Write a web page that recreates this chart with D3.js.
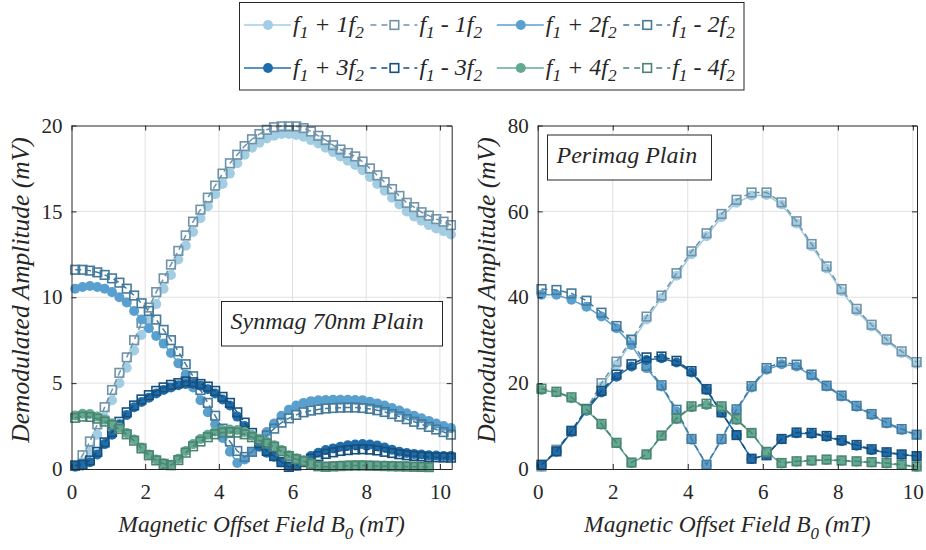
<!DOCTYPE html>
<html><head><meta charset="utf-8">
<script src="https://cdn.jsdelivr.net/npm/d3@7/dist/d3.min.js"></script>
<style>
body{margin:0;background:#fff;}
svg{display:block;}
text{font-family:"Liberation Serif","Times New Roman",serif;fill:#262626;}
</style></head><body>
<svg id="chart" width="926" height="550"></svg>
<script>
// ---------------- DATA ----------------
const harmonicOrder = [1, 1, 2, 2, 3, 3, 4, 4];
const harmonicSign  = ["+", "-", "+", "-", "+", "-", "+", "-"];
const seriesColors  = ["#a3cde3", "#6f93a9", "#5aa0cf", "#457a9c", "#1f6eab", "#174f7d", "#63aa95", "#4b8470"];

const xTicks = [0, 2, 4, 6, 8, 10];
const yTicksSynmag = [0, 5, 10, 15, 20];
const yTicksPerimag = [0, 20, 40, 60, 80];

const synmagTitle = "Synmag 70nm Plain";
const perimagTitle = "Perimag Plain";

const xSynmag = [0.1,0.3,0.5,0.7,0.9,1.1,1.3,1.5,1.7,1.9,2.1,2.3,2.5,2.7,2.9,3.1,3.3,3.5,3.7,3.9,4.1,4.3,4.5,4.7,4.9,5.1,5.3,5.5,5.7,5.9,6.1,6.3,6.5,6.7,6.9,7.1,7.3,7.5,7.7,7.9,8.1,8.3,8.5,8.7,8.9,9.1,9.3,9.5,9.7,9.9,10.1,10.3];
const synP1 = [0.1,0.4,1.1,2.0,3.0,4.0,5.0,5.9,6.9,7.8,8.7,9.6,10.5,11.3,12.2,13.0,13.8,14.6,15.3,16.0,16.6,17.2,17.8,18.3,18.7,19.0,19.25,19.4,19.5,19.5,19.45,19.35,19.15,18.95,18.7,18.45,18.2,17.95,17.7,17.4,17.0,16.6,16.2,15.8,15.4,15.0,14.7,14.45,14.2,14.0,13.85,13.65];
const synM1 = [0.2,0.8,1.6,2.6,3.6,4.6,5.6,6.5,7.5,8.5,9.4,10.3,11.1,11.9,12.7,13.6,14.4,15.1,15.8,16.5,17.2,17.8,18.3,18.8,19.2,19.5,19.75,19.9,19.95,19.95,19.95,19.85,19.65,19.4,19.15,18.85,18.6,18.4,18.2,17.9,17.5,17.1,16.7,16.3,15.9,15.5,15.25,14.95,14.75,14.55,14.4,14.2];
const synP2 = [10.5,10.6,10.65,10.6,10.5,10.3,10.0,9.7,9.2,8.7,8.2,7.75,7.3,6.75,6.15,5.5,4.75,4.0,3.3,2.6,1.8,1.0,0.35,0.55,1.0,1.6,2.15,2.65,3.1,3.45,3.7,3.85,3.95,4.0,4.02,4.03,4.03,4.03,4.02,4.0,3.92,3.82,3.7,3.55,3.4,3.25,3.1,2.95,2.8,2.65,2.5,2.38];
const synM2 = [11.6,11.6,11.55,11.45,11.3,11.1,10.85,10.5,10.1,9.65,9.2,8.7,8.1,7.5,6.85,6.1,5.4,4.6,3.85,3.1,2.35,1.6,1.05,0.7,1.0,1.5,1.95,2.35,2.7,2.95,3.15,3.3,3.4,3.47,3.52,3.55,3.57,3.58,3.58,3.55,3.5,3.42,3.32,3.2,3.05,2.9,2.75,2.6,2.45,2.3,2.15,2.0];
const synP3 = [0.15,0.2,0.4,0.85,1.45,2.0,2.6,3.15,3.6,3.9,4.15,4.4,4.6,4.75,4.88,4.95,4.95,4.85,4.65,4.4,4.05,3.7,3.05,2.5,1.95,1.3,0.95,0.72,0.4,0.15,0.2,0.5,0.75,0.95,1.1,1.2,1.3,1.38,1.43,1.45,1.43,1.37,1.25,1.12,1.0,0.93,0.88,0.84,0.8,0.78,0.76,0.75];
const synM3 = [0.2,0.25,0.5,1.0,1.55,2.15,2.75,3.3,3.7,4.05,4.3,4.55,4.75,4.9,5.0,5.1,5.05,4.95,4.8,4.55,4.2,3.85,3.3,2.7,2.1,1.5,1.05,0.75,0.4,0.12,0.2,0.4,0.6,0.75,0.88,0.97,1.05,1.1,1.14,1.15,1.13,1.08,1.0,0.93,0.86,0.8,0.76,0.73,0.7,0.68,0.67,0.66];
const synP4 = [3.12,3.22,3.2,3.05,2.87,2.66,2.42,2.1,1.72,1.25,0.85,0.55,0.33,0.25,0.6,1.05,1.45,1.75,2.0,2.18,2.27,2.3,2.27,2.15,1.97,1.76,1.58,1.38,1.1,0.8,0.62,0.5,0.33,0.18,0.15,0.17,0.2,0.22,0.23,0.23,0.22,0.21,0.2,0.19,0.18,0.17,0.15,0.13,0.12];
const synM4 = [2.98,3.05,3.03,2.93,2.76,2.56,2.33,2.02,1.65,1.2,0.8,0.5,0.3,0.22,0.52,0.95,1.32,1.6,1.85,2.02,2.12,2.15,2.12,2.02,1.85,1.66,1.48,1.3,1.03,0.75,0.57,0.45,0.3,0.16,0.13,0.15,0.17,0.19,0.2,0.2,0.19,0.18,0.17,0.16,0.15,0.14,0.13,0.12,0.11];

const xPerimag = [0.1,0.5,0.9,1.3,1.7,2.1,2.5,2.9,3.3,3.7,4.1,4.5,4.9,5.3,5.7,6.1,6.5,6.9,7.3,7.7,8.1,8.5,8.9,9.3,9.7,10.1];
const periP1 = [0.5,4.3,8.5,13.5,19.2,24.3,29.5,34.8,39.8,45.0,50.0,54.2,58.7,62.0,63.7,63.8,61.6,57.2,51.9,46.7,41.4,36.8,33.2,29.8,27.0,24.5];
const periM1 = [0.6,4.5,8.8,13.9,20.0,25.0,30.1,35.5,40.4,45.6,50.7,54.9,59.4,62.7,64.4,64.4,62.1,57.7,52.4,47.2,41.9,37.3,33.6,30.2,27.4,24.9];
const periP2 = [40.6,40.6,39.4,37.8,35.5,32.8,28.9,23.5,19.2,13.4,6.8,0.9,6.8,13.6,19.0,23.1,24.4,23.9,21.7,19.2,16.9,14.5,12.6,10.6,9.1,7.9];
const periM2 = [41.9,41.7,40.9,39.2,36.4,33.3,30.1,24.0,19.5,13.8,7.0,1.0,7.0,13.9,19.3,23.5,24.9,24.3,22.0,19.4,17.1,14.7,12.8,10.8,9.3,8.0];
const periP3 = [0.9,4.0,8.7,13.6,17.8,21.5,23.9,25.4,25.8,24.8,22.5,18.4,13.1,7.9,2.3,3.3,6.9,8.3,8.2,7.5,6.5,5.4,4.4,3.8,3.3,3.0];
const periM3 = [1.0,4.1,8.9,14.0,18.2,22.0,24.4,26.0,26.2,25.2,22.8,18.6,13.2,7.9,2.4,3.2,7.0,8.5,8.4,7.7,6.7,5.6,4.6,3.9,3.4,3.0];
const periP4 = [18.4,17.8,16.5,13.75,10.3,6.0,1.4,3.3,7.7,11.6,14.4,14.9,14.4,11.4,8.3,3.9,1.3,1.7,1.9,2.1,1.9,1.7,1.5,1.3,0.9,0.5];
const periM4 = [18.7,18.0,16.7,13.9,10.5,6.1,1.5,3.4,7.8,11.8,14.6,15.2,14.6,11.6,8.4,4.0,1.4,1.8,2.0,2.2,2.0,1.8,1.6,1.4,1.0,0.6];

// ---------------- DRAWING ----------------
const svg = d3.select("#chart");
const AX = "#262626";
const SERIF = "'Liberation Serif', 'Times New Roman', serif";
const plotTop = 125.5, plotBottom = 469;

function addSubText(sel, parts, size){
  parts.forEach(p => {
    const t = sel.append("tspan").text(p.t);
    if (p.sub) t.attr("dy", p.dy).attr("font-size", size * 0.72);
    else if (p.dy) t.attr("dy", p.dy).attr("font-size", size);
  });
}

function drawPanel(cfg){
  const g = svg.append("g");
  const x = d3.scaleLinear().domain(cfg.xDomain).range(cfg.xRange);
  const y = d3.scaleLinear().domain(cfg.yDomain).range([plotBottom, plotTop]);

  // grid
  g.append("g").selectAll("line").data(cfg.xTicks.filter(d => d > 0)).join("line")
    .attr("x1", d => x(d)).attr("x2", d => x(d))
    .attr("y1", plotBottom).attr("y2", plotTop)
    .attr("stroke", "#e1e1e1").attr("stroke-width", 1);
  g.append("g").selectAll("line").data(cfg.yTicks.filter(d => d > cfg.yDomain[0] && d < cfg.yDomain[1])).join("line")
    .attr("x1", cfg.xRange[0]).attr("x2", cfg.xRange[1])
    .attr("y1", d => y(d)).attr("y2", d => y(d))
    .attr("stroke", "#e1e1e1").attr("stroke-width", 1);

  // series
  const line = d3.line().x(d => x(d[0])).y(d => y(d[1]));
  cfg.series.forEach((vals, i) => {
    const pts = vals.map((v, j) => [cfg.xs[j], v]);
    const col = seriesColors[i];
    const dashed = harmonicSign[i] === "-";
    const sg = g.append("g");
    sg.append("path").datum(pts).attr("d", line)
      .attr("fill", "none").attr("stroke", col).attr("stroke-width", 1.5)
      .attr("stroke-dasharray", dashed ? "6,4" : null);
    if (!dashed) {
      sg.selectAll("circle").data(pts).join("circle")
        .attr("cx", d => x(d[0])).attr("cy", d => y(d[1])).attr("r", 5)
        .attr("fill", col);
    } else {
      sg.selectAll("rect").data(pts).join("rect")
        .attr("x", d => x(d[0]) - 4.3).attr("y", d => y(d[1]) - 4.3)
        .attr("width", 8.6).attr("height", 8.6)
        .attr("fill", "none").attr("stroke", col).attr("stroke-width", 1.6);
    }
  });

  // axes
  const fs = 21;
  const ax = g.append("g").attr("transform", `translate(0,${plotBottom})`)
    .call(d3.axisBottom(x).tickValues(cfg.xTicks).tickSize(-5).tickSizeOuter(0).tickPadding(15).tickFormat(d3.format("d")));
  const ay = g.append("g").attr("transform", `translate(${cfg.xRange[0]},0)`)
    .call(d3.axisLeft(y).tickValues(cfg.yTicks).tickSize(-5).tickSizeOuter(0).tickPadding(9).tickFormat(d3.format("d")));
  const at = g.append("g").attr("transform", `translate(0,${plotTop})`)
    .call(d3.axisTop(x).tickValues(cfg.xTicks).tickSize(-5).tickSizeOuter(0).tickFormat(""));
  const ar = g.append("g").attr("transform", `translate(${cfg.xRange[1]},0)`)
    .call(d3.axisRight(y).tickValues(cfg.yTicks).tickSize(-5).tickSizeOuter(0).tickFormat(""));
  [ax, ay, at, ar].forEach(a => {
    a.attr("font-family", SERIF);
    a.selectAll("path.domain").attr("stroke", AX).attr("stroke-width", 1);
    a.selectAll(".tick line").attr("stroke", AX).attr("stroke-width", 1);
    a.selectAll(".tick text").attr("fill", AX).attr("font-size", fs)
      .attr("font-family", SERIF);
  });

  // x label
  const cx = (cfg.xRange[0] + cfg.xRange[1]) / 2;
  const xl = g.append("text").attr("x", cx).attr("y", 531.5)
    .attr("text-anchor", "middle").attr("font-style", "italic").attr("font-size", 23.5)
    .attr("font-family", SERIF);
  addSubText(xl, [{t: "Magnetic Offset Field B"}, {t: "0", sub: true, dy: 7}, {t: " (mT)", dy: -7}], 23.5);

  // y label
  g.append("text")
    .attr("transform", `translate(${cfg.yLabelX},290) rotate(-90)`)
    .attr("text-anchor", "middle").attr("font-style", "italic").attr("font-size", 25.5)
    .attr("font-family", SERIF)
    .text("Demodulated Amplitude (mV)");

  // title box
  const tb = cfg.titleBox;
  g.append("rect").attr("x", tb[0]).attr("y", tb[1]).attr("width", tb[2]).attr("height", tb[3])
    .attr("fill", "#fff").attr("stroke", AX).attr("stroke-width", 1);
  g.append("text").attr("x", tb[0] + 9).attr("y", tb[1] + 27.5)
    .attr("font-style", "italic").attr("font-size", 24).attr("font-family", SERIF).text(cfg.title);
}

drawPanel({
  xs: xSynmag, series: [synP1, synM1, synP2, synM2, synP3, synM3, synP4, synM4],
  xDomain: [0, 10.32], xRange: [71.5, 451.7], yDomain: [0, 20],
  xTicks: xTicks, yTicks: yTicksSynmag, yLabelX: 29,
  title: synmagTitle, titleBox: [221.5, 301.5, 221, 44.5]
});
drawPanel({
  xs: xPerimag, series: [periP1, periM1, periP2, periM2, periP3, periM3, periP4, periM4],
  xDomain: [0, 10.11], xRange: [537.7, 917], yDomain: [0, 80],
  xTicks: xTicks, yTicks: yTicksPerimag, yLabelX: 495,
  title: perimagTitle, titleBox: [547.5, 135, 164, 45]
});

// legend
const lg = svg.append("g");
lg.append("rect").attr("x", 239.5).attr("y", 2.5).attr("width", 504.5).attr("height", 87.5)
  .attr("fill", "#fff").attr("stroke", AX).attr("stroke-width", 1);
harmonicOrder.forEach((n, i) => {
  const col = Math.floor(i % 4), row = Math.floor(i / 4);
  const x0 = 244 + col * 126.4, yc = 25 + row * 43;
  const c = seriesColors[i];
  const dashed = harmonicSign[i] === "-";
  lg.append("line").attr("x1", x0).attr("x2", x0 + 47).attr("y1", yc).attr("y2", yc)
    .attr("stroke", c).attr("stroke-width", 1.5).attr("stroke-dasharray", dashed ? "6,5" : null);
  if (!dashed) lg.append("circle").attr("cx", x0 + 24).attr("cy", yc).attr("r", 5).attr("fill", c);
  else lg.append("rect").attr("x", x0 + 24 - 4.3).attr("y", yc - 4.3).attr("width", 8.6).attr("height", 8.6)
    .attr("fill", "#fff").attr("stroke", c).attr("stroke-width", 1.6);
  const t = lg.append("text").attr("x", x0 + 49).attr("y", yc + 6.5)
    .attr("font-style", "italic").attr("font-size", 24).attr("font-family", SERIF);
  addSubText(t, [{t: "f"}, {t: "1", sub: true, dy: 6}, {t: " " + harmonicSign[i] + " " + n + "f", dy: -6}, {t: "2", sub: true, dy: 6}], 24);
});
</script>
</body></html>
